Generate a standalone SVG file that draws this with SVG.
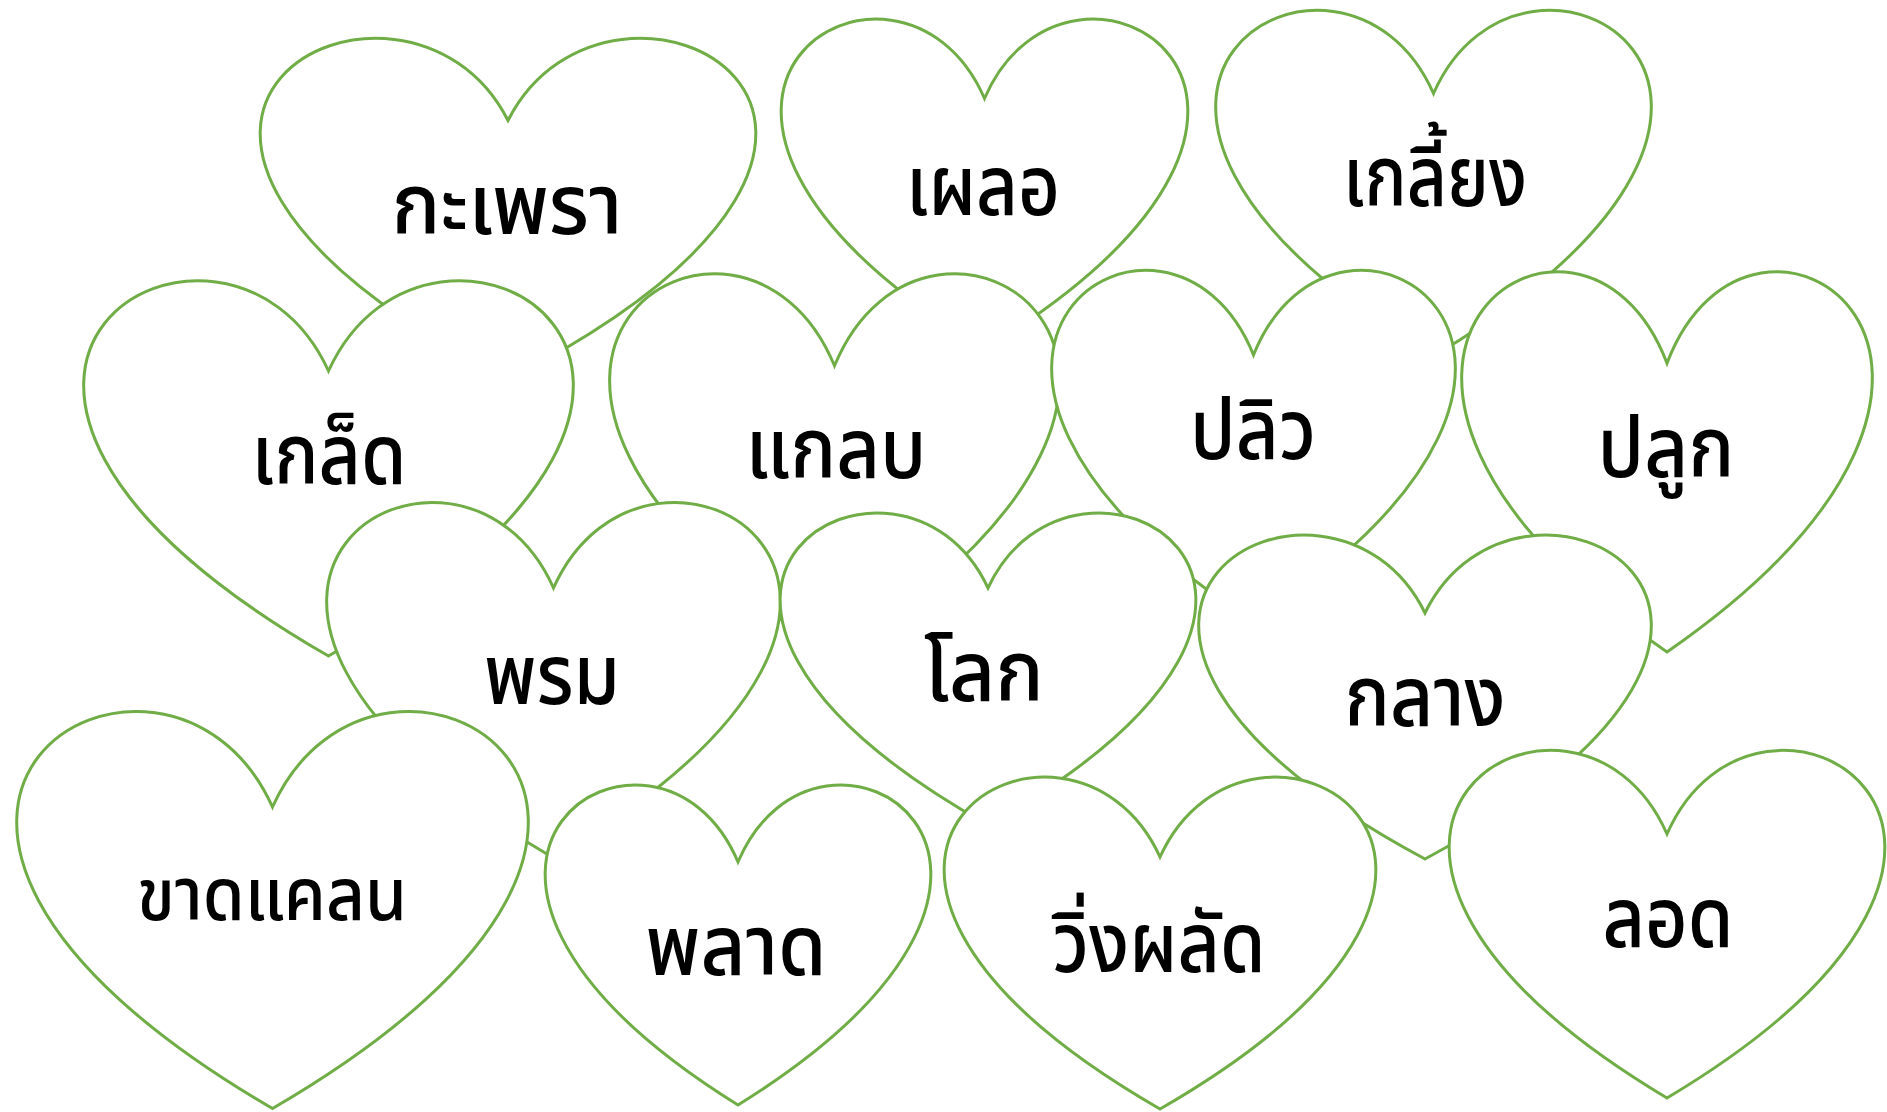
<svg xmlns="http://www.w3.org/2000/svg" width="1887" height="1112" viewBox="0 0 1887 1112">
<style>
.heart{fill:#FFFFFF;stroke:#70AD47;stroke-width:3;stroke-linejoin:miter;stroke-miterlimit:8}
.lbl{font-family:"Noto Sans Thai","Noto Sans","DejaVu Sans",sans-serif;font-size:83px;font-weight:500;fill:#000000;text-anchor:middle}
.small{font-size:73px}
</style>
<rect width="1887" height="1112" fill="#FFFFFF"/>
<g id="connectors"></g>
<g id="n1"><path class="heart" d="M508,120.5 C610.5,-81.3 1010.3,120.5 508,380 C5.7,120.5 405.5,-81.3 508,120.5Z"/><text class="lbl" x="507" y="234" textLength="231" lengthAdjust="spacingAndGlyphs">กะเพรา</text></g>
<g id="n2"><path class="heart" d="M984.5,98.5 C1068.6,-96.3 1396.6,98.5 984.5,349 C572.4,98.5 900.4,-96.3 984.5,98.5Z"/><text class="lbl" x="983" y="215" textLength="154" lengthAdjust="spacingAndGlyphs">เผลอ</text></g>
<g id="n3"><path class="heart" d="M1433.5,93.5 C1523.6,-110.7 1875,93.5 1433.5,356 C992,93.5 1343.4,-110.7 1433.5,93.5Z"/><text class="lbl" x="1435" y="206" textLength="184" lengthAdjust="spacingAndGlyphs">เกลี้ยง</text></g>
<g id="n4"><path class="heart" d="M328.5,371 C429.8,149.3 824.7,371 328.5,656 C-167.7,371 227.2,149.3 328.5,371Z"/><text class="lbl" x="329" y="484" textLength="155" lengthAdjust="spacingAndGlyphs">เกล็ด</text></g>
<g id="n5"><path class="heart" d="M834.5,365.8 C927.5,140 1290.3,365.8 834.5,656 C378.7,365.8 741.5,140 834.5,365.8Z"/><text class="lbl" x="836" y="478" textLength="181" lengthAdjust="spacingAndGlyphs">แกลบ</text></g>
<g id="n6"><path class="heart" d="M1253.5,355 C1337,147.3 1662.6,355 1253.5,622 C844.4,355 1170,147.3 1253.5,355Z"/><text class="lbl" x="1253" y="459" textLength="126" lengthAdjust="spacingAndGlyphs">ปลิว</text></g>
<g id="n7"><path class="heart" d="M1667,363.3 C1751.9,138.7 2083.2,363.3 1667,652 C1250.8,363.3 1582.1,138.7 1667,363.3Z"/><text class="lbl" x="1666" y="477" textLength="137" lengthAdjust="spacingAndGlyphs">ปลูก</text></g>
<g id="n8"><path class="heart" d="M553.5,588 C647.3,378 1013.3,588 553.5,858 C93.7,588 459.7,378 553.5,588Z"/><text class="lbl" x="552" y="704" textLength="136" lengthAdjust="spacingAndGlyphs">พรม</text></g>
<g id="n9"><path class="heart" d="M988,588 C1074,403.7 1409.3,588 988,825 C566.7,588 902,403.7 988,588Z"/><text class="lbl" x="984" y="701" textLength="120" lengthAdjust="spacingAndGlyphs">โลก</text></g>
<g id="n10"><path class="heart" d="M1425,613 C1518.6,421.7 1883.7,613 1425,859 C966.3,613 1331.4,421.7 1425,613Z"/><text class="lbl" x="1425" y="726" textLength="161" lengthAdjust="spacingAndGlyphs">กลาง</text></g>
<g id="n11"><path class="heart" d="M272.5,807 C378.3,572.5 791,807 272.5,1108.5 C-246,807 166.7,572.5 272.5,807Z"/><text class="lbl small" x="272" y="920" textLength="270" lengthAdjust="spacingAndGlyphs">ขาดแคลน</text></g>
<g id="n12"><path class="heart" d="M738,862 C817.8,673 1128.8,862 738,1105 C347.2,862 658.2,673 738,862Z"/><text class="lbl" x="736" y="975" textLength="181" lengthAdjust="spacingAndGlyphs">พลาด</text></g>
<g id="n13"><path class="heart" d="M1160,857 C1249.3,661 1597.5,857 1160,1109 C722.5,857 1070.7,661 1160,857Z"/><text class="lbl" x="1159" y="972" textLength="213" lengthAdjust="spacingAndGlyphs">วิ่งผลัด</text></g>
<g id="n14"><path class="heart" d="M1667,834 C1757.1,628.7 2108.5,834 1667,1098 C1225.5,834 1576.9,628.7 1667,834Z"/><text class="lbl" x="1668" y="947" textLength="131" lengthAdjust="spacingAndGlyphs">ลอด</text></g>
</svg>
